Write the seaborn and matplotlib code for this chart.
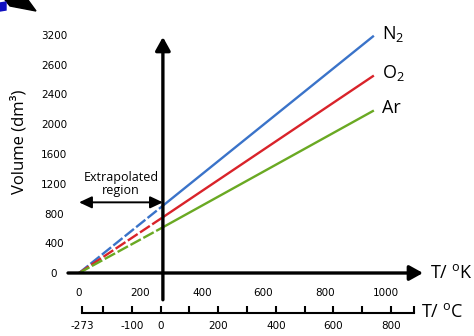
import matplotlib
matplotlib.use("Agg")
import matplotlib.pyplot as plt
import seaborn as sns
import pandas as pd
from matplotlib.patches import Polygon

# ---------------- data ----------------
gases = ["N2", "O2", "Ar"]
gas_labels = [r"N$_\mathregular{2}$", r"O$_\mathregular{2}$", "Ar"]
colors = ["#3a73c9", "#d9232a", "#6aa923"]
temps_extrap = [0, 273]          # K, extrapolated (dashed) segment
temps_meas = [273, 960]          # K, measured (solid) segment
vol_at_0 = [0, 0, 0]
vol_at_273 = [905, 750, 615]
vol_at_end = [3190, 2655, 2185]

kelvin_ticks = [0, 200, 400, 600, 800, 1000]
kelvin_labels = ["0", "200", "400", "600", "800", "1000"]
vol_ticks = [0, 400, 800, 1200, 1600, 2000, 2400, 2800, 3200]
vol_labels = ["0", "400", "800", "1200", "1600", "2000", "2400", "2600", "3200"]
celsius_ticks = [-273, -200, -100, 0, 100, 200, 300, 400, 500, 600, 700, 800, 880]
celsius_labels = ["-273", "", "-100", "0", "", "200", "", "400", "", "600", "", "800", ""]

rows = []
for g, v0, v1, v2 in zip(gases, vol_at_0, vol_at_273, vol_at_end):
    rows.append(dict(T=temps_extrap[0], V=v0, gas=g, seg="extrap"))
    rows.append(dict(T=temps_extrap[1], V=v1, gas=g, seg="extrap"))
    rows.append(dict(T=temps_meas[0], V=v1, gas=g, seg="meas"))
    rows.append(dict(T=temps_meas[1], V=v2, gas=g, seg="meas"))
df = pd.DataFrame(rows)

# ---------------- style ----------------
sns.set_style("white")
plt.rcParams["font.family"] = ["DejaVu Sans"]
plt.rcParams["text.color"] = "black"
plt.rcParams["mathtext.fontset"] = "custom"
plt.rcParams["mathtext.rm"] = "Open Sans"
plt.rcParams["mathtext.it"] = "Open Sans:italic"

W, H = 474, 336
fig = plt.figure(figsize=(W / 100, H / 100), dpi=100)

def px(x0, y0, x1, y1):
    return [x0 / W, 1 - y1 / H, (x1 - x0) / W, (y1 - y0) / H]

# main axes: left px 68 .. right px 423, top px 35 .. bottom px 273 (V=0)
ax = fig.add_axes(px(68, 35, 423, 273))
kx0, kx1 = -36, 1120
vy0, vy1 = 0, 3173
ax.set_xlim(kx0, kx1)
ax.set_ylim(vy0, vy1)
for s in ax.spines.values():
    s.set_visible(False)

palette = dict(zip(gases, colors))
sns.lineplot(data=df, x="T", y="V", hue="gas", style="seg", palette=palette,
             dashes={"extrap": (5, 1.2), "meas": ""}, estimator=None, sort=False,
             lw=1.7, legend=False, ax=ax)
for ln in ax.lines:
    ln.set_clip_on(False)
    ln.set_solid_capstyle("butt")
    ln.set_dash_capstyle("butt")

ax.set_xlabel("")
ax.set_ylabel("")
ax.set_xticks(kelvin_ticks)
ax.set_xticklabels(kelvin_labels)
ax.set_yticks(vol_ticks)
ax.set_yticklabels(vol_labels)
ax.tick_params(axis="both", length=0, labelsize=7.5, colors="black")
ax.tick_params(axis="x", pad=11)
ax.tick_params(axis="y", pad=10)
for lab in ax.get_yticklabels():
    lab.set_ha("center")

# axis arrows
arrow_kw = dict(arrowstyle="-|>,head_length=0.9,head_width=0.5", lw=2.4,
                color="black", shrinkA=0, shrinkB=0, mutation_scale=9)
ax.annotate("", xy=(kx1, 0), xytext=(kx0, 0), xycoords="data",
            arrowprops=arrow_kw, annotation_clip=False)
ax.annotate("", xy=(273, vy1), xytext=(273, -360), xycoords="data",
            arrowprops=arrow_kw, annotation_clip=False)

# extrapolated region arrow
ax.annotate("", xy=(0, 950), xytext=(273, 950), xycoords="data",
            arrowprops=dict(arrowstyle="<|-|>,head_length=0.85,head_width=0.4",
                            lw=1.4, color="black", shrinkA=0, shrinkB=0,
                            mutation_scale=9),
            annotation_clip=False)
ax.text(136, 1200, "Extrapolated\nregion", ha="center", va="center",
        fontsize=9, family="Open Sans", linespacing=1.05, color="black")

# gas labels
for lab, v2 in zip(gas_labels, vol_at_end):
    ax.text(985, v2 + 30, lab, ha="left", va="center", fontsize=13,
            family="Open Sans", color="black")

ax.text(1142, 0, r"T/ $^\mathregular{o}$K", ha="left", va="center", fontsize=13,
        family="Open Sans", clip_on=False, color="black")

fig.text(19 / W, 1 - 142 / H, "Volume (dm³)", rotation=90, ha="center", va="center",
         fontsize=12, family="Open Sans", color="black")

# celsius axis
ax2 = fig.add_axes(px(82, 300, 414, 313))
ax2.set_xlim(-273, 880)
ax2.set_yticks([])
for k in ["top", "left", "right"]:
    ax2.spines[k].set_visible(False)
ax2.spines["bottom"].set_linewidth(1.5)
ax2.spines["bottom"].set_color("black")
ax2.patch.set_alpha(0)
ax2.set_xticks(celsius_ticks)
ax2.set_xticklabels(celsius_labels)
ax2.tick_params(axis="x", bottom=True, direction="in", length=5, width=1.5,
                labelsize=7.5, pad=6, colors="black")
fig.text(421 / W, 1 - 312 / H, r"T/ $^\mathregular{o}$C", ha="left", va="center",
         fontsize=13, family="Open Sans", color="black")

# top-left corner artifact
fig.patches.append(Polygon([(5 / W, 1), (28 / W, 1), (36 / W, 1 - 11 / H), (10 / W, 1 - 6 / H)],
                           closed=True, transform=fig.transFigure, color="black", figure=fig))
fig.patches.append(Polygon([(0, 1 - 3 / H), (6 / W, 1 - 2 / H), (6 / W, 1 - 10 / H), (0, 1 - 11 / H)],
                           closed=True, transform=fig.transFigure, color="#1010c0", figure=fig))

fig.savefig("out.png", dpi=100)
